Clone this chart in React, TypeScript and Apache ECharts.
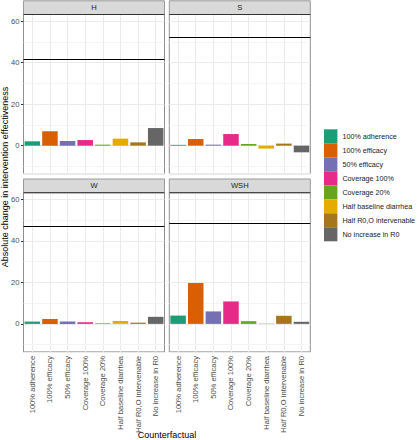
import React, { useEffect, useRef } from "react";
import * as echarts from "echarts";

const panels = ["H", "S", "W", "WSH"];
const categories = [
  "100% adherence",
  "100% efficacy",
  "50% efficacy",
  "Coverage 100%",
  "Coverage 20%",
  "Half baseline diarrhea",
  "Half R0,O intervenable",
  "No increase in R0",
];
const valuesH = [2.1, 6.9, 2.3, 2.7, 0.5, 3.4, 1.6, 8.5];
const valuesS = [0.4, 3.2, 0.5, 5.6, 0.8, -1.4, 1.0, -3.2];
const valuesW = [1.1, 2.3, 1.1, 0.8, 0.3, 1.4, 0.6, 3.4];
const valuesWSH = [4.0, 19.7, 6.0, 10.8, 1.3, 0.2, 3.9, 1.0];
const panelValues = [valuesH, valuesS, valuesW, valuesWSH];
const baselines = [41.4, 52.2, 46.9, 48.7];
const minorBreaks = [-10, 10, 30, 50];
const colors = ["#1B9E77", "#D95F02", "#7570B3", "#E7298A", "#66A61E", "#E6AB02", "#A6761D", "#666666"];

const FONT = "Liberation Sans, Arial, sans-serif";

export default function App() {
  const ref = useRef<HTMLDivElement>(null);
  useEffect(() => {
    if (!ref.current) return;
    const chart = echarts.init(ref.current, undefined, { renderer: "svg" });

    const colLeft = [23.5, 169.3];
    const rowTop = [14.5, 192.7];
    const stripTop = [0.8, 179];
    const pw = 141;
    const ph = 159.2;

    const grids: any[] = [];
    const xAxes: any[] = [];
    const yAxes: any[] = [];
    const series: any[] = [];
    const graphic: any[] = [];

    panels.forEach((p, pi) => {
      const col = pi % 2;
      const row = Math.floor(pi / 2);
      const isLeft = col === 0;
      const isBottom = row === 1;
      grids.push({
        left: colLeft[col],
        top: rowTop[row],
        width: pw,
        height: ph,
        show: true,
        backgroundColor: "#ffffff",
        borderColor: "#8f8f8f",
        borderWidth: 1,
        containLabel: false,
        outerBoundsMode: "none",
      });
      xAxes.push({
        type: "category",
        gridIndex: pi,
        data: categories,
        axisLine: { show: false },
        axisTick: { show: isBottom, alignWithLabel: true, length: 2.5, lineStyle: { color: "#333333" } },
        axisLabel: {
          show: isBottom,
          rotate: 90,
          interval: 0,
          fontSize: 7.6,
          fontFamily: FONT,
          color: "#4d4d4d",
          margin: 4,
        },
        splitLine: { show: false },
      });
      yAxes.push({
        type: "value",
        gridIndex: pi,
        min: -13.5,
        max: 63.2,
        splitNumber: 4,
        minInterval: 20,
        maxInterval: 20,
        axisLine: { show: false },
        axisTick: { show: isLeft, length: 2.5, lineStyle: { color: "#333333" } },
        axisLabel: {
          show: isLeft,
          showMinLabel: false,
          showMaxLabel: false,
          fontSize: 7.6,
          fontFamily: FONT,
          color: "#4d4d4d",
          margin: 4,
        },
        splitLine: { show: true, lineStyle: { color: "#ebebeb", width: 1 } },
      });

      series.push({
        type: "line",
        xAxisIndex: pi,
        yAxisIndex: pi,
        data: [],
        silent: true,
        markLine: {
          z: 1,
          silent: true,
          symbol: "none",
          label: { show: false },
          lineStyle: { color: "#ebebeb", width: 1, type: "solid" },
          data: [
            ...categories.map((c) => ({ xAxis: c })),
            ...minorBreaks.map((v) => ({ yAxis: v, lineStyle: { color: "#f3f3f3", width: 0.8, type: "solid" } })),
          ],
        },
      });

      categories.forEach((c, ci) => {
        series.push({
          type: "bar",
          name: c,
          xAxisIndex: pi,
          yAxisIndex: pi,
          stack: p,
          barWidth: "88%",
          itemStyle: { color: colors[ci] },
          data: categories.map((_, j) => (j === ci ? panelValues[pi][j] : "-")),
        });
      });

      series.push({
        type: "line",
        xAxisIndex: pi,
        yAxisIndex: pi,
        data: [],
        silent: true,
        markLine: {
          z: 10,
          silent: true,
          symbol: "none",
          label: { show: false },
          lineStyle: { color: "#000000", width: 1, type: "solid" },
          data: [{ yAxis: baselines[pi] }],
        },
      });

      graphic.push({
        type: "rect",
        shape: { x: colLeft[col], y: stripTop[row], width: pw, height: rowTop[row] - stripTop[row] },
        style: { fill: "#d9d9d9", stroke: "#9a9a9a", lineWidth: 1 },
        z: 100,
      });
      graphic.push({
        type: "line",
        shape: { x1: colLeft[col], y1: rowTop[row], x2: colLeft[col] + pw, y2: rowTop[row] },
        style: { stroke: "#333333", lineWidth: 1 },
        z: 101,
      });
      graphic.push({
        type: "text",
        x: colLeft[col] + pw / 2,
        y: (stripTop[row] + rowTop[row]) / 2,
        style: {
          text: p,
          fontSize: 7.6,
          fontFamily: FONT,
          fill: "#1a1a1a",
          textAlign: "center",
          textVerticalAlign: "middle",
        },
        z: 102,
      });
    });

    graphic.push({
      type: "text",
      x: 5,
      y: 177,
      rotation: Math.PI / 2,
      style: {
        text: "Absolute change in intervention effectiveness",
        fontSize: 9,
        fontFamily: FONT,
        fill: "#000000",
        textAlign: "center",
        textVerticalAlign: "middle",
      },
    });
    graphic.push({
      type: "text",
      x: 167,
      y: 435,
      style: {
        text: "Counterfactual",
        fontSize: 9,
        fontFamily: FONT,
        fill: "#000000",
        textAlign: "center",
        textVerticalAlign: "middle",
      },
    });

    const legendText = { fontSize: 7.2, fontFamily: FONT, color: "#1a1a1a", lineHeight: 10 };
    chart.setOption({
      animation: false,
      backgroundColor: "#ffffff",
      grid: grids,
      xAxis: xAxes,
      yAxis: yAxes,
      series,
      graphic,
      legend: {
        data: categories.map((c) => ({ name: c, textStyle: legendText })),
        orient: "vertical",
        left: 324,
        top: 129.3,
        itemWidth: 13.4,
        itemHeight: 14,
        itemGap: 0,
        icon: "rect",
        padding: 0,
        textStyle: legendText,
        selectedMode: false,
      },
    });
    return () => chart.dispose();
  }, []);
  return (
    <div
      ref={ref}
      style={{ position: "fixed", left: 0, top: 0, width: 417, height: 440 }}
    />
  );
}
